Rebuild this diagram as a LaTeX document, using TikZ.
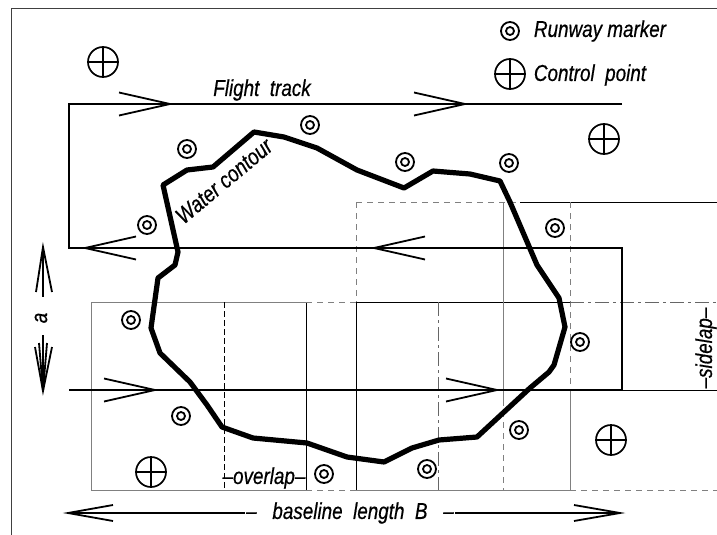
\documentclass[tikz,border=0pt]{standalone}
\usepackage{fontspec}
\setmainfont[FakeStretch=0.82,FakeBold=0.5]{Liberation Sans}
\usepackage{tikz}
\usetikzlibrary{arrows,shapes}
\tikzstyle{runway marker}=[circle,draw,line width=1.8pt,minimum size=18pt,inner sep=0pt,path picture={\draw[line width=1.8pt] (path picture bounding box.center) circle (4pt);}]
\tikzstyle{control point}=[circle,draw,line width=1.7pt,minimum size=30pt,inner sep=0pt,path picture={\draw[line width=1.5pt] (path picture bounding box.north) -- (path picture bounding box.south) (path picture bounding box.west) -- (path picture bounding box.east);}]
\tikzstyle{track}=[draw,line width=2.2pt,line join=miter]
\tikzstyle{barb}=[draw,line width=1.8pt]
\tikzstyle{contour}=[draw,line width=5.2pt,line join=round]
\tikzstyle{thin black}=[draw,black,line width=0.9pt]
\tikzstyle{thin gray}=[draw,black!50,line width=0.9pt]
\tikzstyle{dash gray}=[draw,black!50,line width=0.9pt,dash pattern=on 6pt off 5pt]
\tikzstyle{dash black}=[draw,black,line width=1pt,dash pattern=on 6pt off 3pt]
\tikzstyle{dash dot}=[draw,black!60,line width=0.9pt,dash pattern=on 14pt off 4pt on 3pt off 4pt]
\tikzstyle{label}=[font=\itshape\fontsize{23}{23}\selectfont,inner sep=1pt]
\begin{document}
\begin{tikzpicture}[x=1pt,y=-1pt]
    \useasboundingbox (0,0) rectangle (717,535);
    % frame
    \draw[black!75,line width=1pt] (717,9) -- (11,9) -- (11,535);
    % photo strips
    \foreach \xa/\ya/\xb/\yb/\kind in {91/302/306/302/thin gray, 91/490/306/490/thin gray, 91/302/91/490/thin gray,
        306/302/306/490/thin black, 306/302/356/302/dash gray, 306/490/356/490/dash gray,
        224/302/224/490/dash black, 356/202/356/302/dash gray, 356/202/520/202/dash gray,
        520/202/570/202/dash gray, 520/202/717/202/thin black, 356/302/356/490/thin black,
        356/302/570/302/thin black, 356/490/570/490/thin gray, 438/302/438/490/dash dot,
        503/202/503/400/thin gray, 503/400/503/490/dash gray, 570/202/570/390/dash gray,
        570/390/570/490/thin gray, 570/302/717/302/dash dot, 570/490/717/490/dash gray,
        622/390/717/390/thin black}
        \path[\kind] (\xa,\ya) -- (\xb,\yb);
    % flight track
    \coordinate (t1) at (622,104);
    \coordinate (t2) at (69,104);
    \coordinate (t3) at (69,248);
    \coordinate (t4) at (622,248);
    \coordinate (t5) at (622,390);
    \coordinate (t6) at (69,390);
    \path[track] (t1) -- (t2) -- (t3) -- (t4) -- (t5) -- (t6);
    \foreach \tx/\ty/\sgn in {170/104/1, 465/104/1, 85/248/-1, 374/248/-1, 155/390/1, 497/390/1}
        \path[barb] (\tx,\ty) ++(-\sgn*51,-11.5) -- (\tx,\ty) -- ++(-\sgn*51,11.5);
    % water contour
    \path[contour] (163,185) -- (187,170) -- (213,167) -- (254,132) -- (284,137) -- (317,148) -- (357,170)
        -- (404,188) -- (433,171) -- (470,174) -- (500,181) -- (510,202) -- (537,265) -- (559,298)
        -- (565,327) -- (554,365) -- (549,372) -- (530,388) -- (477,437) -- (439,440) -- (412,448)
        -- (384,462) -- (347,457) -- (307,443) -- (253,438) -- (222,427) -- (207,405) -- (190,382)
        -- (160,353) -- (151,328) -- (158,278) -- (175,265) -- (178,252) -- cycle;
    % markers
    \foreach \pos/\name in {{(187,149)/m1}, {(310,125)/m2}, {(405,162)/m3}, {(509,163)/m4}, {(555,228)/m5}, {(147,225)/m6}, {(131,320)/m7}, {(580,342)/m8}, {(181,416)/m9}, {(519,430)/m10}, {(427,469)/m11}, {(324,474)/m12}, {(510,31)/m13}}
        \node[runway marker] (\name) at \pos {};
    \foreach \pos/\name in {{(103,62)/c1}, {(604,139)/c2}, {(151,472)/c3}, {(611,440)/c4}, {(510,74)/c5}}
        \node[control point] (\name) at \pos {};
    % labels
    \node[label] (runway) at (600,31) {Runway marker};
    \node[label] (control) at (590,75) {Control\ \ point};
    \node[label] (flight) at (262,90) {Flight\ \ track};
    \node[label,rotate=40] (water) at (224,181) {Water contour};
    \node[label] (overlap) at (264,478) {--overlap--};
    \node[label,rotate=90] (sidelap) at (706,348) {--sidelap--};
    % baseline
    \node[label] (baseline) at (350,513) {-- \ \ baseline\ \ length\ \ B \ \ --};
    \coordinate (bl) at (68,513);
    \coordinate (br) at (620,513);
    \path[barb] (baseline) -- (bl);
    \path[barb] (baseline) -- (br);
    \path[barb] (113,505) -- (bl) -- (113,521);
    \path[barb] (574,505) -- (br) -- (574,521);
    % spacing a
    \node[label,rotate=90] (a) at (41,318) {a};
    \coordinate (au) at (43,247);
    \coordinate (ad) at (43,391);
    \path[barb] (au) -- (43,297);
    \path[barb] (36,292) -- (au) -- (52,292);
    \path[barb] (ad) -- (43,335);
    \path[barb] (35,347) -- (ad) -- (52,347);
    \path[barb] (39,343) -- (ad) -- (47,343);
\end{tikzpicture}
\end{document}
